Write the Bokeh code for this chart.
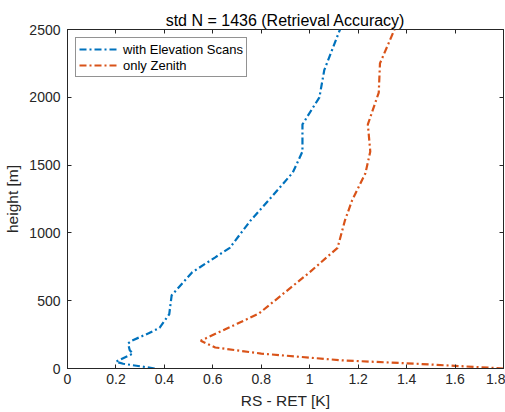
from bokeh.plotting import figure
from bokeh.embed import file_html
from bokeh.resources import INLINE
from bokeh.models import Range1d, FixedTicker, Legend, LegendItem, LinearAxis

# Data
blue_height = [0, 35, 50, 110, 135, 185, 205, 260, 300, 400, 540, 710, 820, 890,
               1090, 1240, 1445, 1600, 1800, 2000, 2200, 2500]
blue_std = [0.36, 0.23, 0.20, 0.27, 0.257, 0.25, 0.265, 0.335, 0.38, 0.42, 0.43,
            0.515, 0.61, 0.67, 0.755, 0.83, 0.93, 0.97, 0.97, 1.04, 1.06, 1.125]
orange_height = [0, 35, 60, 110, 155, 205, 330, 405, 710, 890, 1090, 1240, 1440,
                 1600, 1800, 2035, 2250, 2500]
orange_std = [1.8, 1.44, 1.135, 0.80, 0.61, 0.55, 0.70, 0.79, 1.0, 1.115, 1.145,
              1.175, 1.23, 1.25, 1.24, 1.285, 1.29, 1.35]
x_ticks = [0, 0.2, 0.4, 0.6, 0.8, 1.0, 1.2, 1.4, 1.6, 1.8]
x_tick_labels = ["0", "0.2", "0.4", "0.6", "0.8", "1", "1.2", "1.4", "1.6", "1.8"]
y_ticks = [0, 500, 1000, 1500, 2000, 2500]
series_names = ["with Elevation Scans", "only Zenith"]
colors = ["#0072BD", "#D95319"]

FONT = "Liberation Sans"
TXT = "#262626"

p = figure(width=505, height=412, output_backend="svg", toolbar_location=None,
           x_range=Range1d(0, 1.8), y_range=Range1d(0, 2500),
           min_border_left=67, min_border_right=2, min_border_top=29, min_border_bottom=44,
           title="std N = 1436 (Retrieval Accuracy)")
p.title.align = "center"
p.title.text_font = FONT
p.title.text_font_size = "16px"
p.title.text_font_style = "normal"
p.title.text_color = "#000000"
p.title.standoff = 2

p.background_fill_color = "white"
p.border_fill_color = "white"
p.outline_line_color = TXT
p.outline_line_width = 1
p.grid.visible = False

for ax in (p.xaxis[0], p.yaxis[0]):
    ax.major_tick_in = 4
    ax.major_tick_out = 0
    ax.minor_tick_in = 0
    ax.minor_tick_out = 0
    ax.axis_line_color = TXT
    ax.major_tick_line_color = TXT
    ax.major_label_text_font = FONT
    ax.major_label_text_font_size = "14px"
    ax.major_label_text_color = TXT
    ax.axis_label_text_font = FONT
    ax.axis_label_text_font_size = "15.5px"
    ax.axis_label_text_font_style = "normal"
    ax.axis_label_text_color = TXT

p.xaxis.ticker = FixedTicker(ticks=x_ticks)
p.xaxis.major_label_overrides = {t: l for t, l in zip(x_ticks, x_tick_labels)}
p.yaxis.ticker = FixedTicker(ticks=y_ticks)
p.xaxis.axis_label = "RS - RET [K]"
p.yaxis.axis_label = "height [m]"
p.xaxis.major_label_standoff = 5
p.yaxis.major_label_standoff = 7
p.xaxis.axis_label_standoff = 5
p.yaxis.axis_label_standoff = 5

# mirrored ticks on top / right (no labels)
top = LinearAxis(ticker=FixedTicker(ticks=x_ticks),
                 major_label_overrides={t: "" for t in x_ticks},
                 major_label_text_font_size="1px",
                 major_tick_in=4, major_tick_out=0, minor_tick_in=0, minor_tick_out=0,
                 axis_line_color=None, major_tick_line_color=TXT, major_label_standoff=0)
right = LinearAxis(ticker=FixedTicker(ticks=y_ticks),
                   major_label_overrides={t: "" for t in y_ticks},
                   major_label_text_font_size="1px",
                   major_tick_in=4, major_tick_out=0, minor_tick_in=0, minor_tick_out=0,
                   axis_line_color=None, major_tick_line_color=TXT, major_label_standoff=0)
p.add_layout(top, "above")
p.add_layout(right, "right")

r1 = p.line(blue_std, blue_height, line_color=colors[0], line_width=2.2, line_dash="7 3 2 3")
r2 = p.line(orange_std, orange_height, line_color=colors[1], line_width=2.2, line_dash="7 3 2 3")

legend = Legend(items=[LegendItem(label=series_names[0], renderers=[r1]),
                       LegendItem(label=series_names[1], renderers=[r2])],
                location="top_left")
legend.margin = 8
legend.padding = 3
legend.spacing = 0
legend.label_height = 16
legend.glyph_height = 16
legend.glyph_width = 38
legend.label_standoff = 6
legend.label_text_font = FONT
legend.label_text_font_size = "13px"
legend.label_text_color = "#000000"
legend.border_line_color = TXT
legend.border_line_width = 1
legend.background_fill_color = "white"
legend.background_fill_alpha = 1
p.add_layout(legend, "center")

open("out.html", "w").write(file_html(p, INLINE))
